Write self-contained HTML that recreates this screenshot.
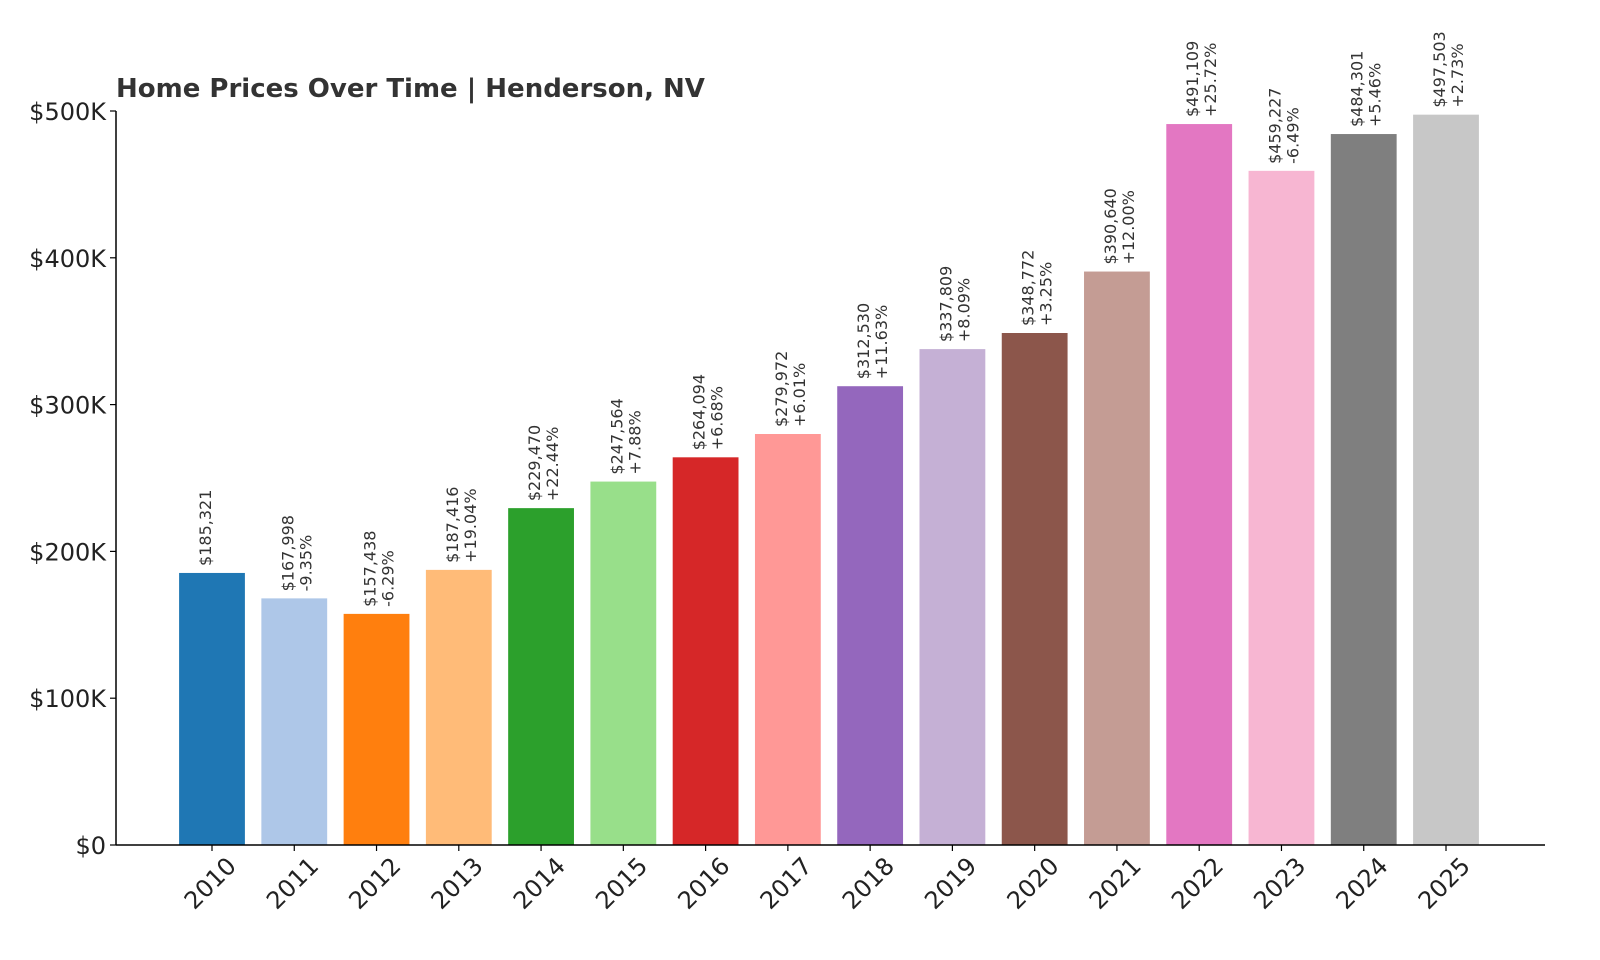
<!DOCTYPE html>
<html><head><meta charset="utf-8"><style>
html,body{margin:0;padding:0;background:#fff}
svg{display:block;font-family:"DejaVu Sans","Liberation Sans",sans-serif}
</style></head><body>
<svg id="chart" width="1600" height="960" viewBox="0 0 1600 960">
<text x="116" y="97" font-size="26" font-weight="bold" fill="#333">Home Prices Over Time | Henderson, NV</text>
<g id="plot"></g>
</svg>
<script>
const years=["2010","2011","2012","2013","2014","2015","2016","2017","2018","2019","2020","2021","2022","2023","2024","2025"];
const prices=[185321,167998,157438,187416,229470,247564,264094,279972,312530,337809,348772,390640,491109,459227,484301,497503];
const changes=["","-9.35%","-6.29%","+19.04%","+22.44%","+7.88%","+6.68%","+6.01%","+11.63%","+8.09%","+3.25%","+12.00%","+25.72%","-6.49%","+5.46%","+2.73%"];
const yTicks=[0,100000,200000,300000,400000,500000];
const yTickLabels=["$0","$100K","$200K","$300K","$400K","$500K"];
const colors=["#1f77b4","#aec7e8","#ff7f0e","#ffbb78","#2ca02c","#98df8a","#d62728","#ff9896","#9467bd","#c5b0d5","#8c564b","#c49c94","#e377c2","#f7b6d2","#7f7f7f","#c7c7c7"];
const NS="http://www.w3.org/2000/svg";
const g=document.getElementById("plot");
const y0=845,yTop=111,left=116,right=1545;
const yScale=v=>y0-(v/500000)*(y0-yTop);
const step=(1446-212)/15;
const xScale=i=>212+i*step;
const bw=step*0.8;
function mk(t,a){const e=document.createElementNS(NS,t);for(const k in a)e.setAttribute(k,a[k]);g.appendChild(e);return e;}
years.forEach((yr,i)=>{
  const cx=xScale(i),top=yScale(prices[i]);
  const r=mk("rect",{x:cx-bw/2,y:top,width:bw,height:y0-top,fill:colors[i]});
  
  
  const t1=mk("text",{transform:`translate(${cx-1},${top-7}) rotate(-90)`,"font-size":"16",fill:"#333"});
  t1.textContent="$"+prices[i].toLocaleString("en-US");
  
  
  if(changes[i]){
    const t2=mk("text",{transform:`translate(${cx+17},${top-7}) rotate(-90)`,"font-size":"16",fill:"#333"});
    t2.textContent=changes[i];
    
    
  }
  const tk=mk("line",{x1:cx,x2:cx,y1:y0,y2:y0+6,stroke:"#000","stroke-width":"1.2"});
  
  
  const xl=mk("text",{transform:`translate(${cx+4},${y0+44}) rotate(-45)`,"text-anchor":"middle","font-size":"24",fill:"#222"});
  xl.textContent=yr;
  
  
});
yTicks.forEach((v,i)=>{
  const y=yScale(v);
  const tk=mk("line",{x1:left-6,x2:left,y1:y,y2:y,stroke:"#000","stroke-width":"1.2"});
  
  
  const l=mk("text",{x:106,y:y+9,"text-anchor":"end","font-size":"24",fill:"#222"});
  l.textContent=yTickLabels[i];
  
  
});
const ya=mk("line",{x1:left,x2:left,y1:yTop,y2:y0,stroke:"#000","stroke-width":"1.5"});


const xa=mk("line",{x1:left,x2:right,y1:y0,y2:y0,stroke:"#000","stroke-width":"1.5"});


</script>
</body></html>
